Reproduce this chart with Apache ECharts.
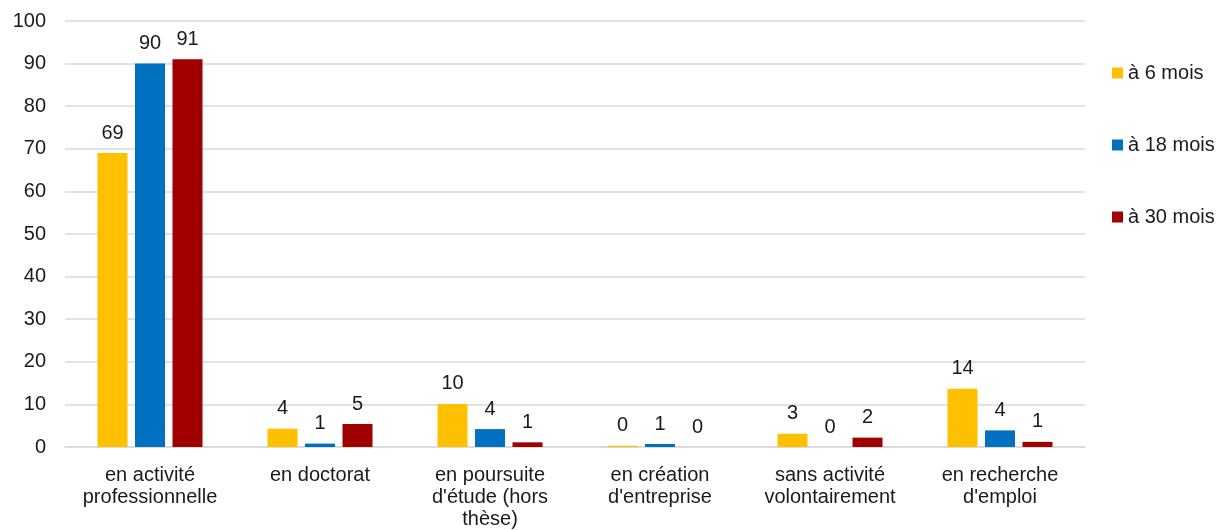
<!DOCTYPE html>
<html>
<head>
<meta charset="utf-8">
<script src="https://cdn.jsdelivr.net/npm/echarts@6/dist/echarts.min.js"></script>
<style>
  html, body { margin: 0; padding: 0; background: #fff; }
  #chart { width: 1223px; height: 530px; }
</style>
</head>
<body>
<div id="chart"></div>
<script>
  var categories = [
    'en activité\nprofessionnelle',
    'en doctorat',
    'en poursuite\nd\'étude (hors\nthèse)',
    'en création\nd\'entreprise',
    'sans activité\nvolontairement',
    'en recherche\nd\'emploi'
  ];
  var seriesNames = ['à 6 mois', 'à 18 mois', 'à 30 mois'];
  var mois6 = [69, 4.3, 10.1, 0.3, 3.1, 13.7];
  var mois18 = [90, 0.8, 4.2, 0.7, 0, 3.9];
  var mois30 = [91, 5.4, 1.1, 0, 2.2, 1.2];
  var colors = ['#FFC000', '#0070C0', '#A00000'];

  var font = '"Liberation Sans", Arial, sans-serif';
  var chart = echarts.init(document.getElementById('chart'));

  function bar(name, data, color) {
    return {
      name: name,
      type: 'bar',
      data: data,
      barWidth: 30,
      barGap: '25%',
      itemStyle: { color: color },
      label: {
        show: true,
        position: 'top',
        distance: 10,
        fontFamily: font,
        fontSize: 20,
        color: '#1a1a1a',
        formatter: function (p) { return Math.round(p.value); }
      }
    };
  }

  var option = {
    animation: false,
    color: colors,
    grid: { left: 65, right: 138, top: 21, bottom: 83, containLabel: false },
    legend: {
      orient: 'vertical',
      left: 1112,
      top: 63,
      padding: 0,
      itemWidth: 11,
      itemHeight: 11,
      itemGap: 52,
      icon: 'rect',
      textStyle: { fontFamily: font, fontSize: 20, color: '#1a1a1a' },
      data: seriesNames
    },
    xAxis: {
      type: 'category',
      data: categories,
      axisLine: { lineStyle: { color: '#d9d9d9', width: 1.5 } },
      axisTick: { show: false },
      axisLabel: {
        interval: 0,
        margin: 17,
        fontFamily: font,
        fontSize: 20,
        lineHeight: 22,
        color: '#1a1a1a'
      }
    },
    yAxis: {
      type: 'value',
      min: 0,
      max: 100,
      interval: 10,
      axisLine: { show: false },
      axisTick: { show: false },
      splitLine: { lineStyle: { color: '#d9d9d9', width: 1.5 } },
      axisLabel: { margin: 19, fontFamily: font, fontSize: 20, color: '#1a1a1a' }
    },
    series: [
      bar(seriesNames[0], mois6, colors[0]),
      bar(seriesNames[1], mois18, colors[1]),
      bar(seriesNames[2], mois30, colors[2])
    ]
  };
  chart.setOption(option);
</script>
</body>
</html>
